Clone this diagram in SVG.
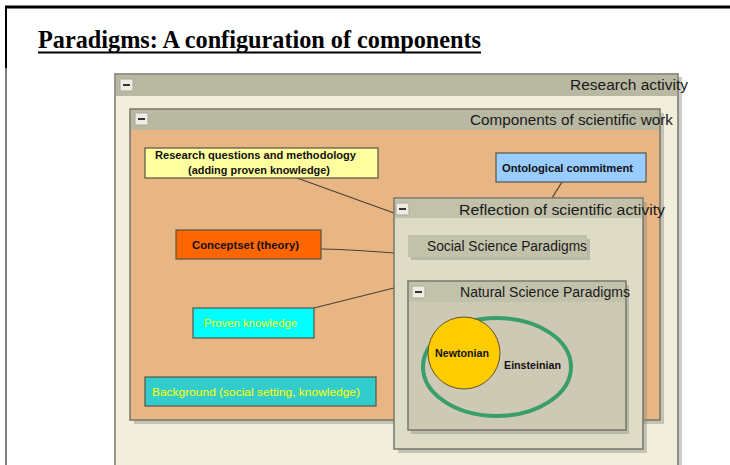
<svg xmlns="http://www.w3.org/2000/svg" width="730" height="465" viewBox="0 0 730 465">
<style>
.hdr{fill:#b9b8a2}
.frm{stroke:#77766a;stroke-width:1.5}
.sh{fill:#8f8e86;opacity:0.45}
.lbl{font-family:"Liberation Sans",Arial,sans-serif;font-size:14px;fill:#1a1a1a}
.nl{font-family:"Liberation Sans",Arial,sans-serif;font-size:11px;font-weight:bold;fill:#111}
.yl{font-family:"Liberation Sans",Arial,sans-serif;font-size:11px;fill:#ffff00}
.node{stroke:#555544;stroke-width:1.2}
.conn{fill:none;stroke:#4a4236;stroke-width:1.2}
.btn{fill:#eeede4;stroke:#a8a898;stroke-width:1}
.dash{stroke:#333;stroke-width:2}
</style>
<defs>
<g id="minus">
<rect class="btn" x="0" y="0" width="13" height="12" rx="1"/>
<line class="dash" x1="3" y1="6" x2="10" y2="6"/>
</g>
</defs>
<rect width="730" height="465" fill="#ffffff"/>
<!-- page frame -->
<line x1="5" y1="7" x2="730" y2="7" stroke="#000" stroke-width="3"/>
<line x1="6" y1="6" x2="6" y2="68" stroke="#000" stroke-width="2"/>
<line x1="6" y1="68" x2="6" y2="465" stroke="#000" stroke-width="1"/>
<g id="title">
<text x="38" y="48" font-family="'Liberation Serif','Times New Roman',serif" font-size="25" font-weight="bold" textLength="443" lengthAdjust="spacingAndGlyphs">Paradigms: A configuration of components</text>
<line x1="38" y1="52.5" x2="481" y2="52.5" stroke="#000" stroke-width="2"/>
</g>
<!-- Research activity -->
<g id="research-activity">
<rect class="sh" x="119" y="77" width="563" height="390"/>
<rect class="frm" x="115" y="74" width="563" height="395" fill="#f1efdb"/>
<rect class="hdr" x="116" y="75" width="561" height="21"/>
<use href="#minus" x="120" y="79"/>
<text class="lbl" x="570" y="90" textLength="118" lengthAdjust="spacingAndGlyphs">Research activity</text>
</g>
<!-- Components -->
<g id="components">
<rect class="sh" x="134" y="113" width="530" height="311"/>
<rect class="frm" x="130" y="109" width="530" height="311" fill="#e8b684"/>
<rect class="hdr" x="131" y="110" width="528" height="20"/>
<use href="#minus" x="135" y="113"/>
<text class="lbl" x="470" y="125" textLength="203" lengthAdjust="spacingAndGlyphs">Components of scientific work</text>
</g>
<!-- connectors -->
<g id="connectors">
<path class="conn" d="M297,178 L394,213"/>
<path class="conn" d="M321,249 Q340,249 394,253"/>
<path class="conn" d="M314,308 L394,288"/>
<path class="conn" d="M562,182 L552,198"/>
</g>
<!-- nodes -->
<g id="research-questions">
<rect class="node" x="145" y="148" width="233" height="30" fill="#ffffa0"/>
<text class="nl" x="155" y="159" textLength="201" lengthAdjust="spacingAndGlyphs">Research questions and methodology</text>
<text class="nl" x="188" y="174" textLength="142" lengthAdjust="spacingAndGlyphs">(adding proven knowledge)</text>
</g>
<g id="ontological">
<rect class="node" x="496" y="153" width="150" height="29" fill="#99ccff"/>
<text class="nl" x="502" y="172" textLength="131" lengthAdjust="spacingAndGlyphs">Ontological commitment</text>
</g>
<g id="conceptset">
<rect class="node" x="176" y="230" width="145" height="29" fill="#ff6600"/>
<text class="nl" x="192" y="249" textLength="107" lengthAdjust="spacingAndGlyphs">Conceptset (theory)</text>
</g>
<g id="proven-knowledge">
<rect class="node" x="193" y="308" width="121" height="30" fill="#00ffff"/>
<text class="yl" x="204" y="327" textLength="93" lengthAdjust="spacingAndGlyphs">Proven knowledge</text>
</g>
<g id="background">
<rect class="node" x="145" y="377" width="231" height="29" fill="#33cccc"/>
<text class="yl" x="152" y="396" textLength="208" lengthAdjust="spacingAndGlyphs">Background (social setting, knowledge)</text>
</g>
<!-- Reflection -->
<g id="reflection">
<rect class="sh" x="398" y="202" width="249" height="251"/>
<rect class="frm" x="394" y="198" width="249" height="251" fill="#dedcc7"/>
<rect fill="#c2c1aa" x="395" y="199" width="247" height="19"/>
<use href="#minus" x="396" y="203"/>
<text class="lbl" x="459" y="215" textLength="206" lengthAdjust="spacingAndGlyphs">Reflection of scientific activity</text>
</g>
<g id="social-science">
<rect class="sh" x="411" y="239" width="179" height="21"/>
<rect x="408" y="235" width="179" height="22" fill="#c2c1aa"/>
<text class="lbl" x="427" y="251" textLength="160" lengthAdjust="spacingAndGlyphs">Social Science Paradigms</text>
</g>
<g id="natural-science">
<rect class="sh" x="411" y="285" width="218" height="149"/>
<rect class="frm" x="408" y="281" width="218" height="149" fill="#cdc9b4"/>
<rect fill="#c2c1aa" x="409" y="282" width="216" height="20"/>
<use href="#minus" x="412" y="286"/>
<text class="lbl" x="460" y="297" textLength="170" lengthAdjust="spacingAndGlyphs">Natural Science Paradigms</text>
</g>
<g id="einsteinian">
<ellipse cx="497" cy="367" rx="74" ry="49" fill="none" stroke="#3a9e6c" stroke-width="4"/>
<text class="nl" x="504" y="369" textLength="57" lengthAdjust="spacingAndGlyphs">Einsteinian</text>
</g>
<g id="newtonian">
<circle cx="464" cy="353" r="36" fill="#ffcc00" stroke="#665522" stroke-width="1"/>
<text class="nl" x="435" y="357" textLength="54" lengthAdjust="spacingAndGlyphs">Newtonian</text>
</g>
</svg>
